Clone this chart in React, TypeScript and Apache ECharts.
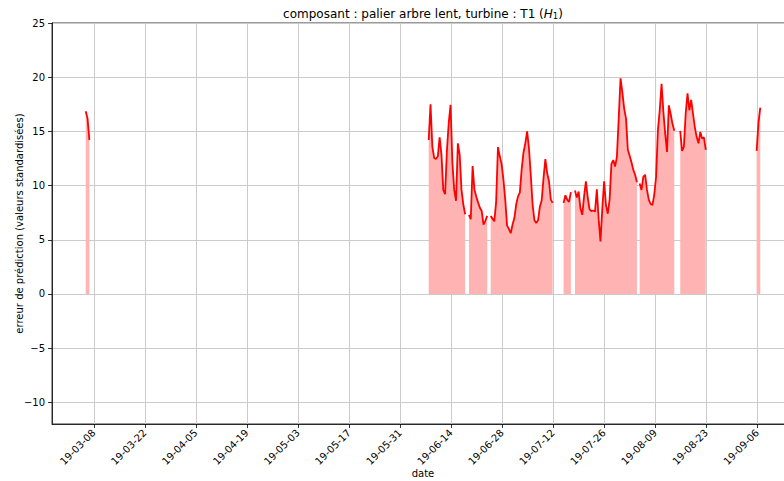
import React, { useEffect, useRef } from "react";
import * as echarts from "echarts";

// ---------- data ----------
const ORIGIN_DATE = "2019-03-08T00:00:00Z"; // first labelled tick
const STEP_HOURS = 12;

const xTickLabels = [
  "19-03-08", "19-03-22", "19-04-05", "19-04-19", "19-05-03", "19-05-17", "19-05-31",
  "19-06-14", "19-06-28", "19-07-12", "19-07-26", "19-08-09", "19-08-23", "19-09-06",
];
const yTickValues = [-10, -5, 0, 5, 10, 15, 20, 25];
const yTickLabels = ["\u221210", "\u22125", "0", "5", "10", "15", "20", "25"];

const X_MIN_DATE = "2019-02-24T13:00:00Z";
const X_MAX_DATE = "2019-09-16T02:00:00Z";
const Y_MIN = -12;
const Y_MAX = 25;

const segmentStarts = [
  "2019-03-05T19:00:00Z",
  "2019-06-07T21:00:00Z",
  "2019-06-18T22:00:00Z",
  "2019-06-24T21:00:00Z",
  "2019-07-14T21:00:00Z",
  "2019-07-18T00:00:00Z",
  "2019-08-04T18:00:00Z",
  "2019-08-15T21:00:00Z",
  "2019-09-05T20:00:00Z",
];

const seg0 = [16.85, 16.2, 14.2];
const seg1 = [14.2, 17.5, 13.6, 12.55, 12.45, 12.7, 14.45, 12.85, 9.6, 9.2, 13.25, 15.8, 17.45, 12.1, 9.6, 8.6, 13.9, 12.85, 9.6, 8.25, 7.35];
const seg2 = [7.3, 6.9, 11.8, 9.65, 9.0, 8.45, 7.95, 7.65, 6.4, 6.75, 7.2];
const seg3 = [7.2, 6.95, 6.7, 8.5, 13.55, 12.7, 12.0, 10.55, 8.7, 6.3, 6.0, 5.6, 6.4, 7.0, 8.25, 9.0, 9.35, 11.5, 13.05, 13.9, 15.0, 13.45, 11.0, 8.25, 6.8, 6.55, 6.8, 8.05, 8.65, 10.7, 12.45, 11.15, 10.4, 8.7, 8.4];
const seg4 = [8.4, 9.1, 8.7, 8.5, 9.4];
const seg5 = [9.55, 8.9, 9.45, 7.9, 7.3, 9.0, 10.4, 8.9, 7.8, 7.65, 7.7, 7.6, 9.65, 6.9, 4.85, 7.9, 10.4, 8.2, 7.4, 8.7, 12.0, 12.35, 11.75, 12.65, 16.2, 19.9, 18.6, 17.1, 16.2, 13.3, 12.75, 12.15, 11.45, 11.0, 10.3];
const seg6 = [10.2, 9.6, 10.8, 11.0, 9.6, 8.7, 8.3, 8.2, 9.15, 10.8, 15.1, 16.95, 19.4, 16.8, 14.8, 13.1, 17.4, 16.6, 15.7, 15.05];
const seg7 = [15.05, 13.2, 13.6, 16.65, 18.5, 16.95, 17.9, 16.65, 15.4, 14.5, 13.9, 14.95, 14.35, 14.45, 13.3];
const seg8 = [13.2, 15.8, 17.2];

const segmentValues = [seg0, seg1, seg2, seg3, seg4, seg5, seg6, seg7, seg8];

// ---------- helpers ----------
const DAY = 86400000;
const origin = Date.parse(ORIGIN_DATE);
const toDay = (iso: string) => (Date.parse(iso) - origin) / DAY;

function buildData() {
  const out: (number | null)[][] = [];
  segmentValues.forEach((vals, s) => {
    const d0 = toDay(segmentStarts[s]);
    vals.forEach((v, i) => out.push([d0 + (i * STEP_HOURS) / 24, v]));
    const last = d0 + ((vals.length - 1) * STEP_HOURS) / 24;
    out.push([last + 0.25, null]);
  });
  return out;
}

const FONT = "DejaVu Sans";
const GRID_COLOR = "#cbcbcb";

export default function App() {
  const ref = useRef<HTMLDivElement>(null);
  useEffect(() => {
    if (!ref.current) return;
    const chart = echarts.init(ref.current, null, { renderer: "svg" });
    const option: any = {
      animation: false,
      backgroundColor: "#ffffff",
      textStyle: { fontFamily: FONT },
      grid: {
        left: 52,
        right: -10,
        top: 23,
        bottom: 57,
        containLabel: false,
        outerBoundsMode: "none",
        show: true,
        borderColor: "#000000",
        borderWidth: 0.8,
        backgroundColor: "transparent",
      },
      graphic: [
        {
          type: "text",
          x: 423,
          y: 14,
          z: 100,
          style: {
            text: "composant : palier arbre lent, turbine : T1 ({i|H}{s|1})",
            fontFamily: FONT,
            fontSize: 12,
            fill: "#000",
            align: "center",
            verticalAlign: "middle",
            rich: {
              i: { fontStyle: "italic", fontSize: 12, fontFamily: FONT },
              s: { fontSize: 8.5, fontFamily: FONT, verticalAlign: "bottom" },
            },
          },
        },
      ],
      xAxis: {
        type: "value",
        min: toDay(X_MIN_DATE),
        max: toDay(X_MAX_DATE),
        minInterval: 14,
        maxInterval: 14,
        name: "date",
        nameLocation: "middle",
        nameGap: 44,
        nameMoveOverlap: false,
        nameTextStyle: { fontSize: 10, color: "#000", fontFamily: FONT },
        axisLine: { show: true, onZero: false, lineStyle: { color: "#000", width: 0.8 } },
        axisTick: { show: true, length: 4, inside: false, lineStyle: { color: "#000", width: 0.8 } },
        axisLabel: {
          show: true,
          rotate: 45,
          margin: 7,
          fontSize: 10,
          color: "#000",
          fontFamily: FONT,
          showMinLabel: false,
          showMaxLabel: false,
          formatter: (v: number) => {
            const idx = Math.round(v / 14);
            if (Math.abs(v - idx * 14) > 1e-6) return "";
            return xTickLabels[idx] ?? "";
          },
        },
        splitLine: { show: true, lineStyle: { color: GRID_COLOR, width: 1 } },
      },
      yAxis: {
        type: "value",
        min: Y_MIN,
        max: Y_MAX,
        minInterval: 5,
        maxInterval: 5,
        name: "erreur de prédiction (valeurs standardisées)",
        nameLocation: "middle",
        nameGap: 28,
        nameMoveOverlap: false,
        nameTextStyle: { fontSize: 10, color: "#000", fontFamily: FONT },
        axisLine: { show: true, onZero: false, lineStyle: { color: "#000", width: 0.8 } },
        axisTick: { show: true, length: 4, inside: false, lineStyle: { color: "#000", width: 0.8 } },
        axisLabel: {
          show: true,
          margin: 7,
          fontSize: 10,
          color: "#000",
          fontFamily: FONT,
          showMinLabel: false,
          formatter: (v: number) => {
            const i = yTickValues.indexOf(v);
            return i >= 0 ? yTickLabels[i] : "";
          },
        },
        splitLine: { show: true, lineStyle: { color: GRID_COLOR, width: 1 } },
      },
      series: [
        {
          type: "line",
          data: buildData(),
          symbol: "none",
          showSymbol: false,
          connectNulls: false,
          lineStyle: { color: "#ff0000", width: 1.8 },
          itemStyle: { color: "#ff0000" },
          areaStyle: { color: "#ffb3b3", opacity: 1, origin: 0 },
          z: 3,
        },
      ],
    };
    chart.setOption(option);
    return () => chart.dispose();
  }, []);
  return (
    <div
      ref={ref}
      style={{ position: "fixed", left: 0, top: 0, width: 784, height: 481 }}
    />
  );
}
